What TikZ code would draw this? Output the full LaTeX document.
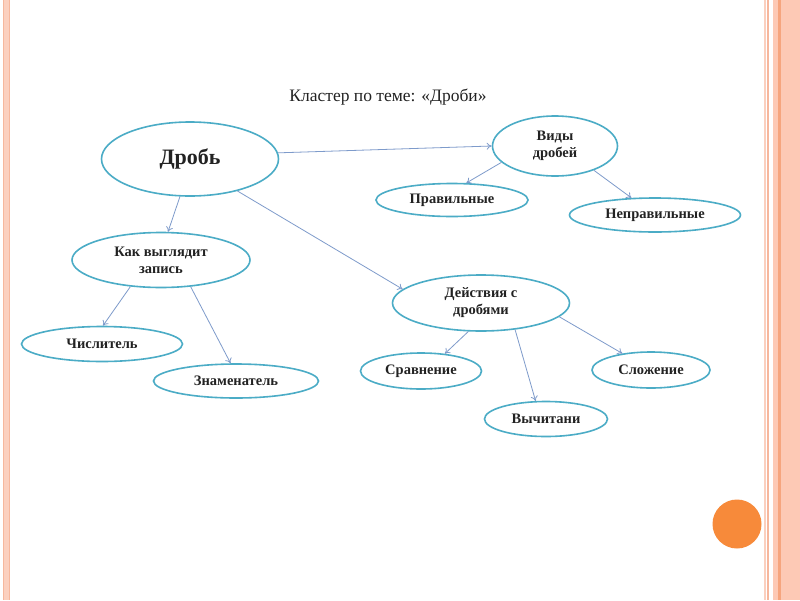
\documentclass[tikz,border=0pt]{standalone}
\usepackage{fontspec}
\setmainfont{Liberation Serif}
\usetikzlibrary{shapes.geometric,arrows.meta}
\definecolor{ellc}{HTML}{4BACC6}
\definecolor{arrc}{HTML}{7E9BCB}
\definecolor{pinkA}{HTML}{FBD0BF}
\definecolor{pinkB}{HTML}{F6B79D}
\definecolor{pinkC}{HTML}{FDC9B5}
\definecolor{orangeA}{HTML}{F6A57E}
\definecolor{dotc}{HTML}{F78A3A}
\definecolor{txtc}{HTML}{222222}
\tikzset{
  bub/.style={ellipse, draw=ellc, line width=1.6pt, inner sep=0pt, align=center, text=txtc,
    font=\bfseries\fontsize{14.5}{17}\selectfont},
  conn/.style={draw=arrc, line width=0.8pt, -{To[length=5pt,width=7pt]}},
}
\begin{document}
\begin{tikzpicture}[x=1pt,y=-1pt]
\useasboundingbox (0,0) rectangle (800,600);
\fill[white] (0,0) rectangle (800,600);
% left border
\fill[pinkA] (3,0) rectangle (10,600);
\fill[pinkB] (3,0) rectangle (4.2,600);
\fill[pinkB] (8.8,0) rectangle (10,600);
% right border
\fill[pinkA] (764,0) rectangle (766,600);
\fill[pinkB] (767,0) rectangle (768.5,600);
\fill[pinkC] (773,0) rectangle (800,600);
\fill[orangeA] (778,0) rectangle (781,600);
% orange dot
\fill[dotc] (737,524) circle (24.5);
% title
\node[text=txtc] (title) at (388,97) {\fontsize{17.5}{20}\selectfont Кластер по теме: «Дроби»};
% nodes
\node[bub, minimum width=177pt, minimum height=74pt, font=\bfseries\fontsize{22}{26}\selectfont] (drob) at (190,159) {Дробь};
\node[bub, minimum width=125pt, minimum height=60pt] (vidy) at (555,146) {Виды\\дробей};
\node[bub, minimum width=152pt, minimum height=33pt] (prav) at (452,200) {Правильные};
\node[bub, minimum width=171pt, minimum height=34pt] (neprav) at (655,215) {Неправильные};
\node[bub, minimum width=178pt, minimum height=55pt] (kak) at (161,260) {Как выглядит\\запись};
\node[bub, minimum width=161pt, minimum height=35pt] (chisl) at (102,344) {Числитель};
\node[bub, minimum width=165pt, minimum height=34pt] (znam) at (236,381) {Знаменатель};
\node[bub, minimum width=177pt, minimum height=56pt] (deist) at (481,303) {Действия с\\дробями};
\node[bub, minimum width=121pt, minimum height=36pt] (srav) at (421,371) {Сравнение};
\node[bub, minimum width=118pt, minimum height=36pt] (slozh) at (651,370) {Сложение};
\node[bub, minimum width=123pt, minimum height=35pt] (vych) at (546,419) {Вычитани};
% connectors
\draw[conn] (drob.4) -- (vidy.180);
\draw[conn] (drob.255) -- (kak.76);
\draw[conn] (drob.326) -- (deist.170);
\draw[conn] (vidy.197) -- (prav.50);
\draw[conn] (vidy.328) -- (neprav.144);
\draw[conn] (kak.221) -- (chisl.87);
\draw[conn] (kak.318) -- (znam.107);
\draw[conn] (deist.246) -- (srav.36);
\draw[conn] (deist.322) -- (vych.120);
\draw[conn] (deist.350) -- (slozh.150);
\end{tikzpicture}
\end{document}
